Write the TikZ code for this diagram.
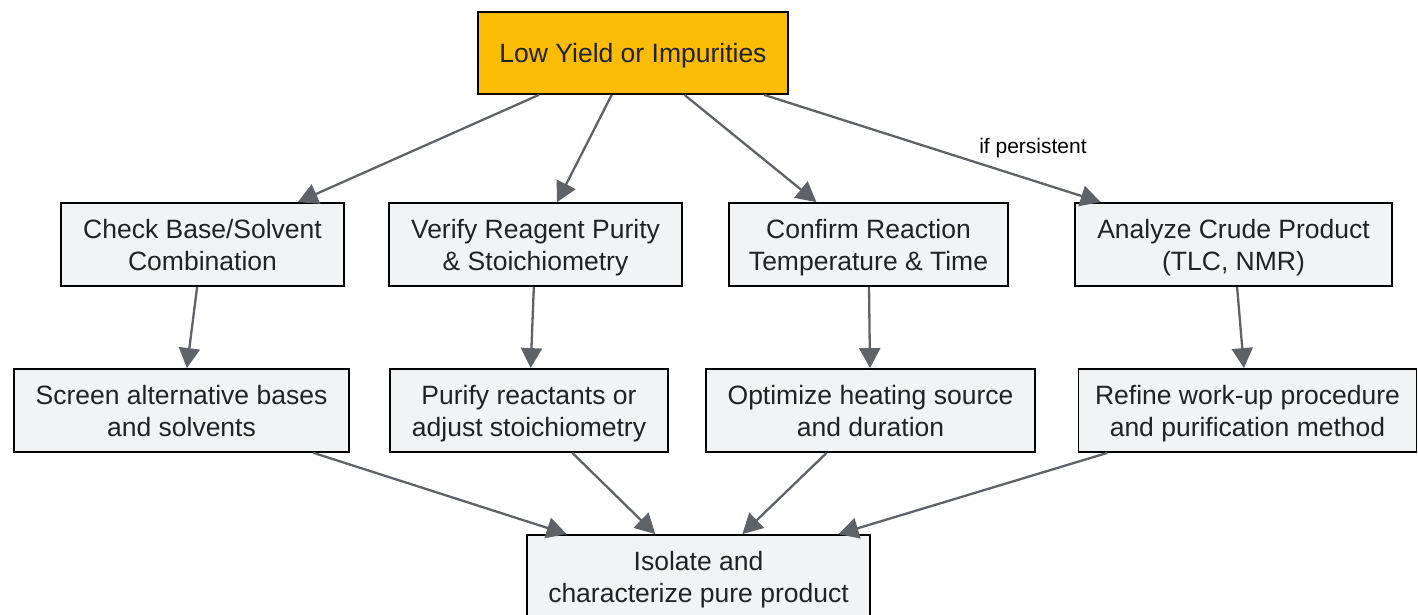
\documentclass[tikz,border=0pt]{standalone}
\usepackage{fontspec}
\setmainfont{Liberation Sans}
\usetikzlibrary{arrows.meta}
\definecolor{topfill}{HTML}{FBBC05}
\definecolor{boxfill}{HTML}{F1F3F5}
\definecolor{edgecol}{HTML}{5F6368}
\definecolor{txt}{HTML}{222222}
\newcommand{\mystrut}{\rule[-6.5pt]{0pt}{32.4pt}}
\begin{document}
\begin{tikzpicture}[x=1pt,y=-1pt,
  box/.style={draw=black, line width=1.8pt, fill=boxfill, minimum height=83pt,
    align=center, inner sep=0pt, text=txt,
    font=\fontsize{26.5}{32.4}\selectfont},
  conn/.style={draw=edgecol, line width=2.3pt, -{Triangle[length=20pt,width=21pt]}},
  elabel/.style={font=\fontsize{21}{25}\selectfont, text=black, inner sep=0pt}]
\useasboundingbox (0,0) rectangle (1418,614);
\node[box, fill=topfill, minimum width=310pt, minimum height=82pt] (top) at (633,53) {\mystrut Low Yield or Impurities};
\node[box, minimum width=283pt] (a) at (202.5,244.5) {\mystrut Check Base/Solvent\\\mystrut Combination};
\node[box, minimum width=293pt] (b) at (535.5,244.5) {\mystrut Verify Reagent Purity\\\mystrut\& Stoichiometry};
\node[box, minimum width=279pt] (c) at (868.5,244.5) {\mystrut Confirm Reaction\\\mystrut Temperature \& Time};
\node[box, minimum width=317pt] (d) at (1233.5,244.5) {\mystrut Analyze Crude Product\\\mystrut (TLC, NMR)};
\node[box, minimum width=335pt] (e) at (181.5,410.5) {\mystrut Screen alternative bases\\\mystrut and solvents};
\node[box, minimum width=278pt] (f) at (529,410.5) {\mystrut Purify reactants or\\\mystrut adjust stoichiometry};
\node[box, minimum width=329pt] (g) at (870.5,410.5) {\mystrut Optimize heating source\\\mystrut and duration};
\node[box, minimum width=338pt] (h) at (1247.5,410.5) {\mystrut Refine work-up procedure\\\mystrut and purification method};
\node[box, minimum width=343pt] (z) at (698.5,576.5) {\mystrut Isolate and\\\mystrut characterize pure product};
\node[elabel] (lbl) at (1033,148) {if persistent};
\draw[conn] (top) -- (a);
\draw[conn] (top) -- (b);
\draw[conn] (top) -- (c);
\draw[conn] (top) -- (d);
\draw[conn] (a) -- (e);
\draw[conn] (b) -- (f);
\draw[conn] (c) -- (g);
\draw[conn] (d) -- (h);
\draw[conn] (e) -- (z);
\draw[conn] (f) -- (z);
\draw[conn] (g) -- (z);
\draw[conn] (h) -- (z);
\end{tikzpicture}
\end{document}
